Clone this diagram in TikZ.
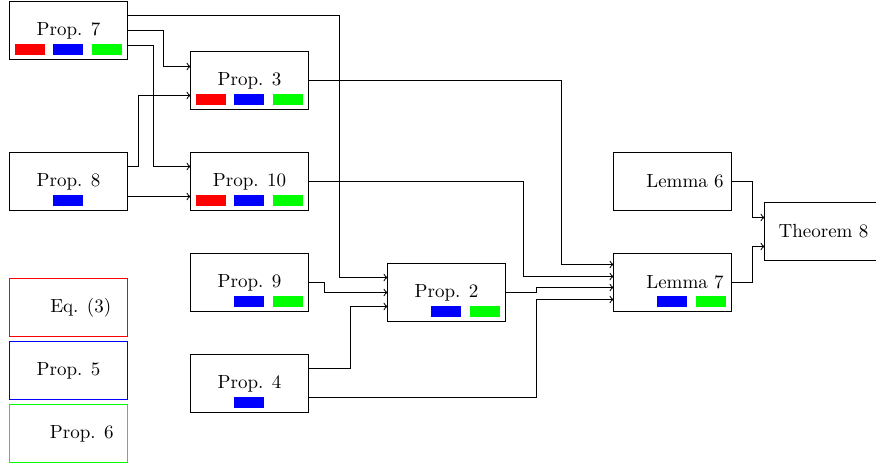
\documentclass[tikz,border=0pt]{standalone}
\usetikzlibrary{calc}
\newcommand\slotbar[3]{\fill[#3] ($(#1)+(#2,13.5)$) rectangle ++(30,11);}
\newcommand\rgb[1]{\slotbar{#1}{-53.5}{red}\slotbar{#1}{-15.5}{blue}\slotbar{#1}{23.5}{green}}
\newcommand\bg[1]{\slotbar{#1}{-15.5}{blue}\slotbar{#1}{23.5}{green}}
\begin{document}
\begin{tikzpicture}[x=0.526pt,y=-0.526pt,
  box/.style={draw, line width=0.526pt, minimum width=62.07pt, minimum height=30.51pt, inner sep=0pt, outer sep=0pt},
  conn/.style={->, line width=0.526pt}]
\useasboundingbox (0,0) rectangle (876,466);
% nodes
\node[box] (p7) at (68.5,30.5) {Prop. 7};
\node[box] (p3) at (249.5,80.5) {Prop. 3};
\node[box] (p8) at (68.5,181.5) {Prop. 8};
\node[box] (p10) at (249.5,181.5) {Prop. 10};
\node[box] (p9) at (249.5,282.5) {Prop. 9};
\node[box] (p4) at (249.5,383.5) {Prop. 4};
\node[box] (p2) at (446.5,292.5) {Prop. 2};
\node[box] (l6) at (672.5,181.5) {\hspace*{13.2pt}Lemma 6};
\node[box] (l7) at (672.5,282.5) {\hspace*{13.2pt}Lemma 7};
\node[box] (t8) at (823.5,231.5) {Theorem 8};
\node[box,draw=red] (eq3) at (68.5,307.5) {\hspace*{12.9pt}Eq. (3)};
\node[box,draw=blue] (p5) at (68.5,370.5) {Prop. 5};
\node[box,draw=green] (p6) at (68.5,433.5) {\hspace*{13.9pt}Prop. 6};
% bars
\rgb{p7}
\rgb{p3}
\slotbar{p8}{-15.5}{blue}
\rgb{p10}
\bg{p9}
\slotbar{p4}{-15.5}{blue}
\bg{p2}
\bg{l7}
% connectors
\draw[conn] ($(p7.east)+(0,-15)$) -- ++(212,0) |- ($(p2.west)+(0,-15)$);
\draw[conn] (p7.east) -- ++(36,0) |- ($(p3.west)+(0,-14)$);
\draw[conn] ($(p7.east)+(0,15)$) -- ++(26,0) |- ($(p10.west)+(0,-15)$);
\draw[conn] ($(p8.east)+(0,-15)$) -- ++(11,0) |- ($(p3.west)+(0,15)$);
\draw[conn] ($(p8.east)+(0,15)$) -- ($(p10.west)+(0,15)$);
\draw[conn] (p3.east) -- ++(253,0) |- ($(l7.west)+(0,-18)$);
\draw[conn] (p10.east) -- ++(215,0) |- ($(l7.west)+(0,-6)$);
\draw[conn] (p9.east) -- ++(16,0) |- (p2.west);
\draw[conn] ($(p4.east)+(0,-15)$) -- ++(42,0) |- ($(p2.west)+(0,14)$);
\draw[conn] ($(p4.east)+(0,14)$) -- ++(228,0) |- ($(l7.west)+(0,17)$);
\draw[conn] (p2.east) -- ++(31,0) |- ($(l7.west)+(0,5)$);
\draw[conn] (l6.east) -- ++(21,0) |- ($(t8.west)+(0,-14)$);
\draw[conn] (l7.east) -- ++(21,0) |- ($(t8.west)+(0,15)$);
\end{tikzpicture}
\end{document}
